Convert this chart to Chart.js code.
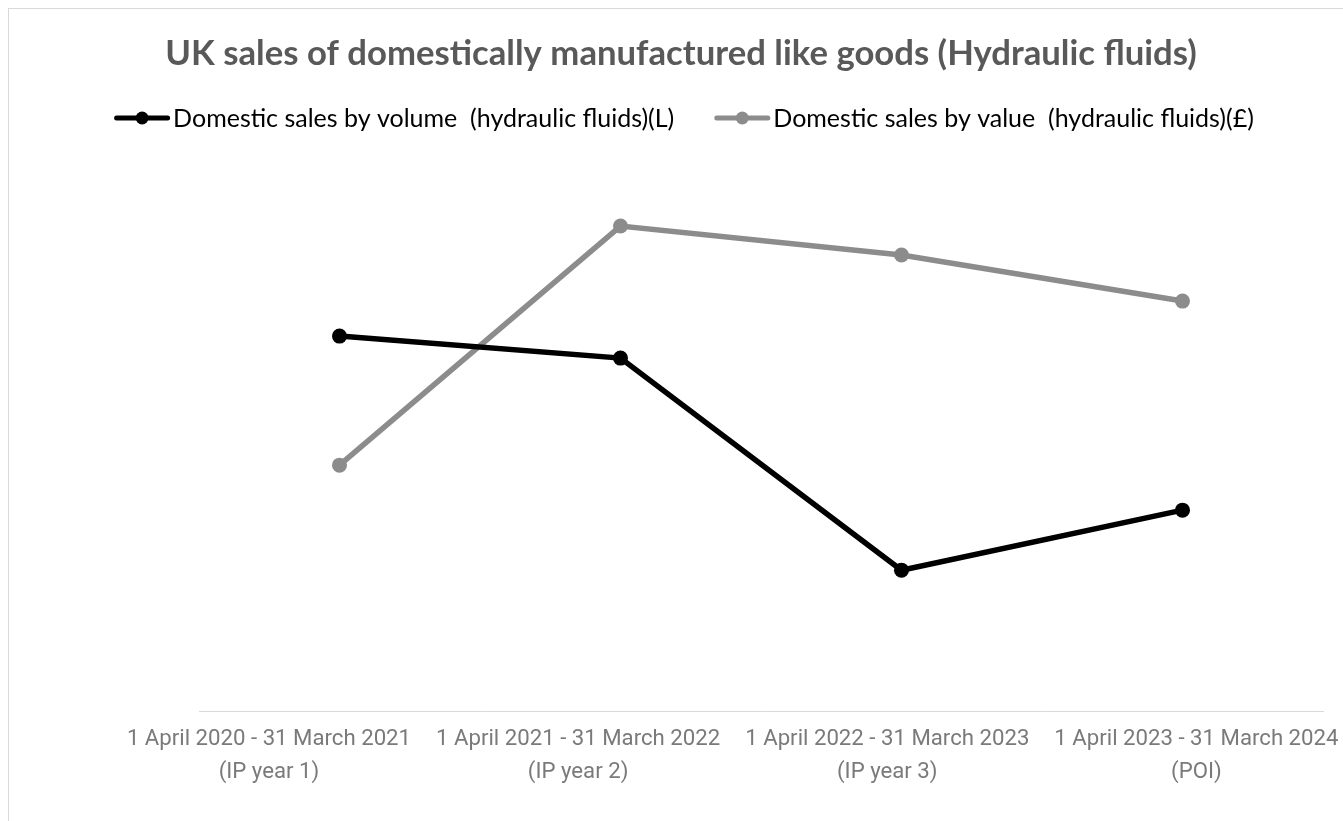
<!DOCTYPE html>
<html lang="en">
<head>
    <meta charset="UTF-8">
    <title>UK sales of domestically manufactured like goods (Hydraulic fluids)</title>
    <script src="https://cdn.jsdelivr.net/npm/chart.js"></script>
    <style>
        body {
            margin: 0;
            overflow: hidden;
            background: #ffffff;
        }
        .wrap {
            position: relative;
            width: 1362px;
            height: 821px;
        }
    </style>
</head>
<body>
    <div class="wrap">
        <canvas id="salesChart" width="1362" height="821"></canvas>
    </div>

    <script>
        // periods on the x axis (two lines each)
        const periods = [
            ['1 April 2020 - 31 March 2021', '(IP year 1)'],
            ['1 April 2021 - 31 March 2022', '(IP year 2)'],
            ['1 April 2022 - 31 March 2023', '(IP year 3)'],
            ['1 April 2023 - 31 March 2024', '(POI)']
        ];

        // no value axis is shown, so these are relative levels read off the picture
        const volumeSales = [375, 353, 141, 201];
        const valueSales = [246, 485, 456, 410];

        const volumeLabel = 'Domestic sales by volume  (hydraulic fluids)(L)';
        const valueLabel = 'Domestic sales by value  (hydraulic fluids)(£)';

        const volumeColor = '#000000';
        const valueColor = '#8c8c8c';

        // the category labels in the original are spread a bit wider than the plot
        const labelSpan = { left: 114.4, right: 1351 };

        // light frame round the chart, like the spreadsheet chart border
        const framePlugin = {
            id: 'frame',
            beforeDraw(chart) {
                const ctx = chart.ctx;
                ctx.save();
                ctx.fillStyle = '#ffffff';
                ctx.fillRect(0, 0, chart.width, chart.height);
                ctx.strokeStyle = '#d9d9d9';
                ctx.lineWidth = 1;
                ctx.strokeRect(8.5, 8.5, chart.width + 20, chart.height + 20);
                ctx.restore();
            }
        };

        // stretch the label-only axis after layout
        const labelSpanPlugin = {
            id: 'labelSpan',
            afterLayout(chart) {
                const s = chart.scales.xLabels;
                s.left = labelSpan.left;
                s.right = labelSpan.right;
                s.width = labelSpan.right - labelSpan.left;
                s.configure();
            }
        };

        // legend drawn by hand: line with a dot, then the label close to it
        const lineLegendPlugin = {
            id: 'lineLegend',
            afterDraw(chart) {
                const ctx = chart.ctx;
                const y = 118;
                const markerW = 56;
                const textGap = 3;
                const itemGap = 40;
                ctx.save();
                ctx.font = '25px Lato';
                ctx.textBaseline = 'middle';
                const items = chart.data.datasets.map(ds => ({
                    text: ds.label,
                    color: ds.borderColor,
                    w: ctx.measureText(ds.label).width
                }));
                let total = 0;
                items.forEach((it, i) => {
                    total += markerW + textGap + it.w + (i > 0 ? itemGap : 0);
                });
                let x = 684 - total / 2;
                items.forEach(it => {
                    ctx.strokeStyle = it.color;
                    ctx.fillStyle = it.color;
                    ctx.lineWidth = 5;
                    ctx.lineCap = 'round';
                    ctx.beginPath();
                    ctx.moveTo(x + 2.5, y);
                    ctx.lineTo(x + markerW - 2.5, y);
                    ctx.stroke();
                    ctx.beginPath();
                    ctx.arc(x + markerW / 2, y, 6.5, 0, Math.PI * 2);
                    ctx.fill();
                    ctx.fillStyle = '#000000';
                    ctx.fillText(it.text, x + markerW + textGap, y + 1);
                    x += markerW + textGap + it.w + itemGap;
                });
                ctx.restore();
            }
        };

        const ctx = document.getElementById('salesChart').getContext('2d');

        const salesChart = new Chart(ctx, {
            type: 'line',
            data: {
                labels: periods,
                datasets: [
                    {
                        label: volumeLabel,
                        data: volumeSales,
                        borderColor: volumeColor,
                        backgroundColor: volumeColor,
                        borderWidth: 5.5,
                        pointRadius: 7.5,
                        pointBorderWidth: 0,
                        pointBackgroundColor: volumeColor,
                        tension: 0,
                        fill: false
                    },
                    {
                        label: valueLabel,
                        data: valueSales,
                        borderColor: valueColor,
                        backgroundColor: valueColor,
                        borderWidth: 5.5,
                        pointRadius: 7.5,
                        pointBorderWidth: 0,
                        pointBackgroundColor: valueColor,
                        tension: 0,
                        fill: false
                    }
                ]
            },
            options: {
                responsive: false,
                animation: false,
                layout: {
                    padding: { top: 0, bottom: 35.8, left: 0, right: 0 }
                },
                plugins: {
                    legend: { display: false },
                    tooltip: { enabled: false },
                    title: {
                        display: true,
                        text: 'UK sales of domestically manufactured like goods (Hydraulic fluids)',
                        color: '#595959',
                        font: { family: 'Lato', size: 34.7, weight: 'bold' },
                        padding: { top: 33.2, bottom: 85.2 }
                    }
                },
                scales: {
                    x: {
                        offset: true,
                        weight: 0,
                        grid: { display: false },
                        border: { display: true, color: '#d9d9d9', width: 1 },
                        ticks: { display: false }
                    },
                    xLabels: {
                        type: 'category',
                        position: 'bottom',
                        offset: true,
                        weight: 5,
                        grid: { display: false },
                        border: { display: false },
                        ticks: {
                            color: '#7a7a7a',
                            font: { family: 'Roboto', size: 22.2, lineHeight: 1.486 },
                            padding: -4,
                            maxRotation: 0,
                            autoSkip: false
                        }
                    },
                    y: {
                        min: 0,
                        max: 551,
                        display: true,
                        grid: { display: false },
                        border: { display: false },
                        ticks: { display: false },
                        afterFit(scale) { scale.width = 199; }
                    },
                    yRight: {
                        position: 'right',
                        display: true,
                        grid: { display: false },
                        border: { display: false },
                        ticks: { display: false },
                        afterFit(scale) { scale.width = 39; }
                    }
                }
            },
            plugins: [framePlugin, labelSpanPlugin, lineLegendPlugin]
        });
    </script>
</body>
</html>
